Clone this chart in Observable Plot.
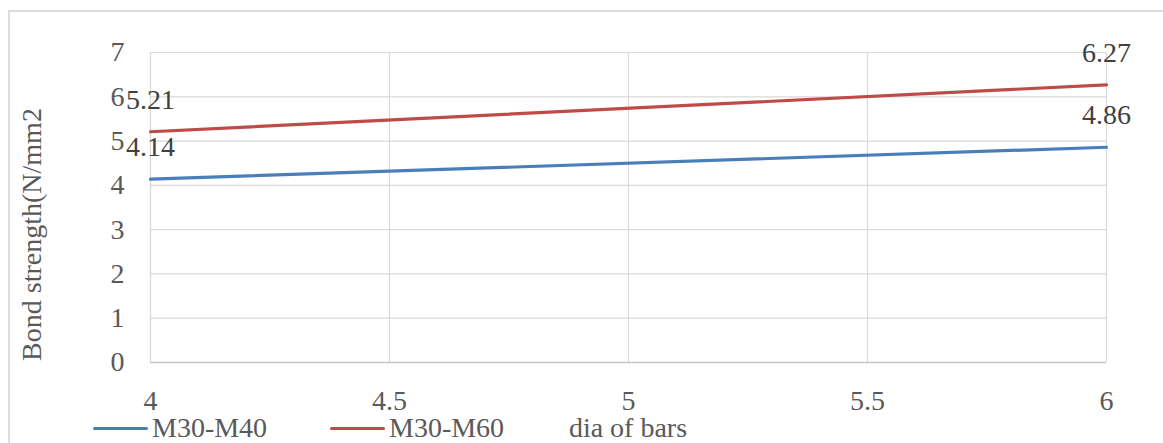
<!DOCTYPE html>
<html>
<head>
<meta charset="utf-8">
<script src="https://cdn.jsdelivr.net/npm/d3@7"></script>
<script src="https://cdn.jsdelivr.net/npm/@observablehq/plot@0.6"></script>
<style>
  html, body { margin: 0; padding: 0; background: #fff; overflow: hidden; }
  #wrap { position: relative; width: 1163px; height: 443px; overflow: hidden; font-family: "Liberation Serif", "Times New Roman", serif; }
  #border { position: absolute; left: 8px; top: 10px; width: 2000px; height: 1000px; border: 2px solid #dcdcdc; box-sizing: border-box; pointer-events: none; }
  #chart { position: absolute; left: 0; top: 0; }
  .leg { position: absolute; top: 414px; height: 28px; line-height: 28px; font-size: 28px; color: #595959; white-space: nowrap; }
  .sw { position: absolute; top: 13px; height: 3px; width: 55px; border-radius: 1.5px; }
  .lt { position: absolute; left: 59px; top: 0; }
  #xtitle { position: absolute; top: 414px; left: 628px; transform: translateX(-50%); font-size: 28px; line-height: 28px; color: #595959; white-space: nowrap; }
</style>
</head>
<body>
<div id="wrap">
  <div id="border"></div>
  <div id="chart"></div>
  <div id="legend"></div>
  <div id="xtitle"></div>
</div>
<script>
const xValues = [4, 6];
const seriesNames = ["M30-M40", "M30-M60"];
const m30m40 = [4.14, 4.86];
const m30m60 = [5.21, 6.27];
const seriesColors = ["#4a7ebb", "#be4b48"];
const xTicks = [4, 4.5, 5, 5.5, 6];
const yTicks = [0, 1, 2, 3, 4, 5, 6, 7];
const xTitle = "dia of bars";
const yTitle = "Bond strength(N/mm2";

const data = [];
[m30m40, m30m60].forEach((vals, si) => {
  vals.forEach((v, i) => data.push({ series: seriesNames[si], x: xValues[i], y: v }));
});

const font = '"Liberation Serif", "Times New Roman", serif';

const chart = Plot.plot({
  width: 1163,
  height: 443,
  marginLeft: 150,
  marginRight: 57,
  marginTop: 52,
  marginBottom: 81,
  style: { fontFamily: font, fontSize: "28px", color: "#595959", background: "transparent", overflow: "visible" },
  x: { domain: [4, 6], ticks: xTicks },
  y: { domain: [0, 7], ticks: yTicks },
  color: { domain: seriesNames, range: seriesColors },
  marks: [
    Plot.ruleX(xTicks, { stroke: "#d9d9d9", strokeWidth: 1.2 }),
    Plot.ruleY(yTicks.filter(d => d > 0), { stroke: "#d9d9d9", strokeWidth: 1.2 }),
    Plot.ruleY([0], { stroke: "#c4c4c4", strokeWidth: 1.5 }),
    Plot.axisX({ ticks: xTicks, tickFormat: d => String(d), tickSize: 0, tickPadding: 28, label: null, fontSize: 28, fill: "#595959" }),
    Plot.axisY({ ticks: yTicks, tickFormat: d => String(d), tickSize: 0, tickPadding: 26, label: null, fontSize: 28, fill: "#595959" }),
    Plot.text([yTitle], { frameAnchor: "left", dx: -118, dy: 27, rotate: -90, text: d => d, fontSize: 28, fill: "#595959", textAnchor: "middle" }),
    Plot.line(data, { x: "x", y: "y", z: "series", stroke: "series", strokeWidth: 3.2, strokeLinecap: "round" }),
    Plot.text(data, { x: "x", y: "y", text: d => d.y.toFixed(2), dy: -32, fontSize: 28, fill: "#404040" })
  ]
});
document.getElementById("chart").appendChild(chart);

const legend = document.getElementById("legend");
const legendLeft = [93, 330];
seriesNames.forEach((name, i) => {
  const item = document.createElement("div");
  item.className = "leg";
  item.style.left = legendLeft[i] + "px";
  const sw = document.createElement("div");
  sw.className = "sw";
  sw.style.background = seriesColors[i];
  const t = document.createElement("span");
  t.className = "lt";
  t.textContent = name;
  item.appendChild(sw);
  item.appendChild(t);
  legend.appendChild(item);
});
document.getElementById("xtitle").textContent = xTitle;
</script>
</body>
</html>
